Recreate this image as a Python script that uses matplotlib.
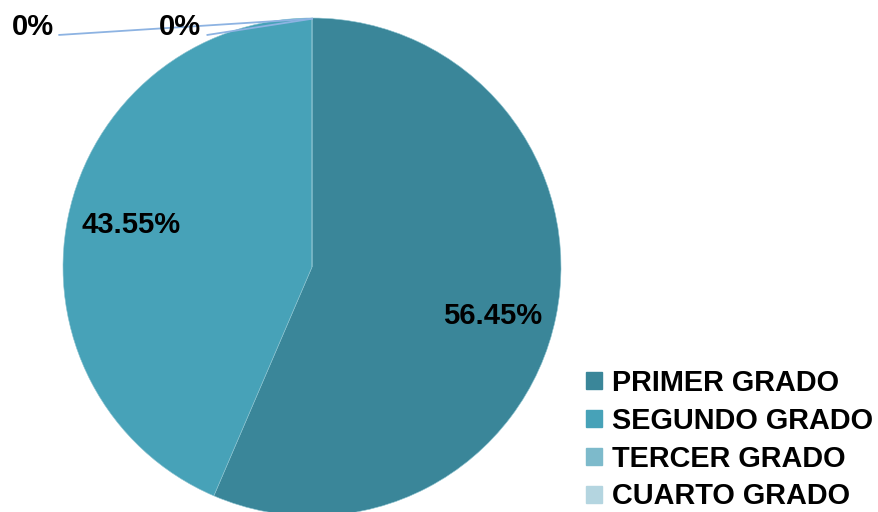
import matplotlib
matplotlib.use("Agg")
import matplotlib.pyplot as plt
import numpy as np

categories = ["PRIMER GRADO", "SEGUNDO GRADO", "TERCER GRADO", "CUARTO GRADO"]
percentages = [56.45, 43.55, 0.0, 0.0]
colors = ["#3A8699", "#47A2B8", "#7DBACB", "#B4D5E0"]

plt.rcParams["font.family"] = ["Liberation Sans", "DejaVu Sans"]

W, H = 879, 512
fig = plt.figure(figsize=(W / 100, H / 100), dpi=100)

# pie centre and radius in pixels
cx, cy, r = 312, 267, 249
ax = fig.add_axes([(cx - r) / W, (H - cy - r) / H, 2 * r / W, 2 * r / H])

wedges, _ = ax.pie(percentages, colors=colors, startangle=90, counterclock=False,
                   radius=1, wedgeprops=dict(linewidth=0.4, edgecolor="#8cc3d0"))
for w in wedges:
    w.set_clip_on(False)
ax.set_xlim(-1, 1)
ax.set_ylim(-1, 1)
ax.set_aspect("equal")
ax.axis("off")

# percentage labels inside non-zero slices (small vertical nudges per label)
total = sum(percentages)
start = 90.0
label_dist = 0.74
nudges = [-0.046, 0.02, 0.0, 0.0]
for val, w, dy in zip(percentages, wedges, nudges):
    span = val / total * 360
    mid = np.deg2rad(start - span / 2)
    start -= span
    if val > 0:
        ax.text(label_dist * np.cos(mid), label_dist * np.sin(mid) + dy,
                f"{val:.2f}%", ha="center", va="center",
                fontsize=21, fontweight="bold", color="black")

# zero-valued slices: labels outside with leader lines to the top point
zero_pos = [(-1.12, 0.965), (-0.53, 0.965)]
line_end = [(-1.015, 0.932), (-0.42, 0.932)]
for (tx, ty), (lx, ly), val in zip(zero_pos, line_end, percentages[2:]):
    ax.plot([lx, 0.0], [ly, 0.997], color="#8DB3E2", lw=1.3, clip_on=False)
    ax.text(tx, ty, f"{val:.0f}%", ha="center", va="center",
            fontsize=21, fontweight="bold", color="black", clip_on=False)

# legend
handles = [plt.Rectangle((0, 0), 1, 1, color=c) for c in colors]
fig.legend(handles, categories, loc="upper left",
           bbox_to_anchor=(586 / W, 1 - 369 / H), frameon=False,
           prop=dict(size=20.8, weight="bold"), handlelength=0.55,
           handleheight=0.55, handletextpad=0.35, labelspacing=0.34,
           borderpad=0, borderaxespad=0)

fig.savefig("out.png", dpi=100)
